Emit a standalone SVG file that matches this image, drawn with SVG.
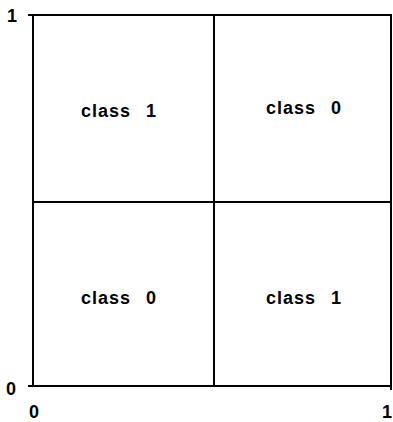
<svg xmlns="http://www.w3.org/2000/svg" width="393" height="422" viewBox="0 0 393 422">
<style>
.ln{stroke:#000;stroke-width:2;fill:none}
.t{font-family:"Liberation Sans",Arial,sans-serif;font-weight:bold;font-size:18px;fill:#000}
.c{letter-spacing:1px;word-spacing:9px}
</style>
<rect width="393" height="422" fill="#fff"/>
<g id="connectors">
<path class="ln" d="M28,15 H392 M33,15 V386 M28,386 H392 M391,15 V390 M214,15 V386 M33,202 H391"/>
</g>
<g id="axis-labels">
<text class="t" x="7" y="22">1</text>
<text class="t" x="6" y="395">0</text>
<text class="t" x="29" y="418">0</text>
<text class="t" x="382" y="418">1</text>
</g>
<g id="q-tl"><text class="t c" x="81" y="117">class 1</text></g>
<g id="q-tr"><text class="t c" x="266" y="114">class 0</text></g>
<g id="q-bl"><text class="t c" x="81" y="304">class 0</text></g>
<g id="q-br"><text class="t c" x="266" y="304">class 1</text></g>
</svg>
